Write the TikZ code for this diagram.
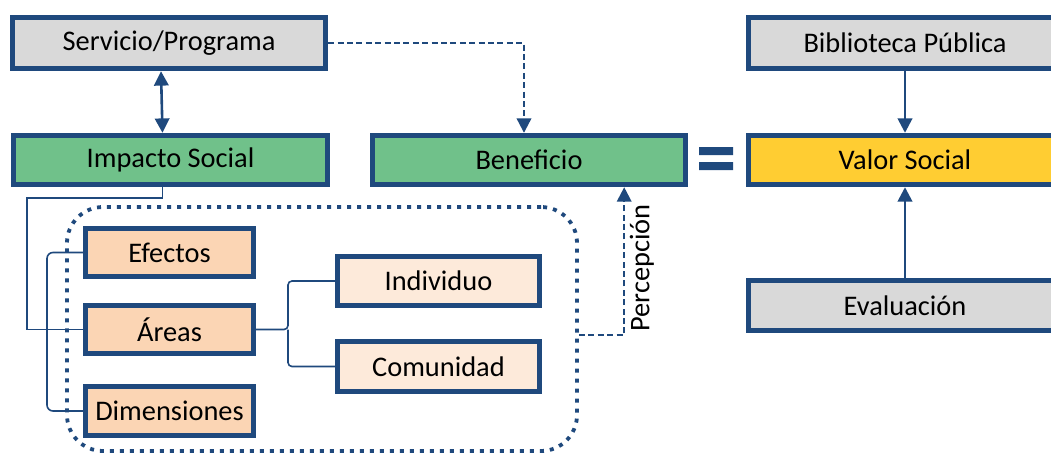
\documentclass[tikz,border=0pt]{standalone}
\usepackage{fontspec}
\setmainfont{Carlito}
\usetikzlibrary{arrows.meta}

\definecolor{frame}{RGB}{31,73,125}
\definecolor{greybox}{RGB}{217,217,217}
\definecolor{greenbox}{RGB}{112,193,138}
\definecolor{orangebox}{RGB}{251,213,180}
\definecolor{palebox}{RGB}{253,234,218}
\definecolor{yellowbox}{RGB}{255,205,50}

\begin{document}
\begin{tikzpicture}[x=0.25mm,y=-0.25mm,>={Triangle[width=3.6mm,length=3.6mm]},
  box/.style={draw=frame,line width=1.25mm,minimum width=78.35mm,minimum height=12.35mm,inner sep=0pt,font=\fontsize{20.2}{24}\selectfont},
  smallbox/.style={box,minimum width=42.1mm,minimum height=12.1mm,fill=orangebox},
  subbox/.style={box,minimum width=50.6mm,fill=palebox},
  arrowline/.style={draw=frame,line width=0.65mm},
  dashline/.style={draw=frame,line width=0.55mm,dash pattern=on 1.5mm off 0.85mm},
  thinline/.style={draw=frame,line width=0.4mm},
  dotbox/.style={draw=frame,line width=0.95mm,dash pattern=on 1mm off 1.5mm,rounded corners=9mm,minimum width=127.5mm,minimum height=61mm}]
  \useasboundingbox (0,0) rectangle (1051,454);
  %left
  %upper
  \node[box,fill=greybox,minimum height=12.85mm] (serv) at (169,43) {Servicio/Programa};
  \node[box,fill=greenbox] (imp) at (170.5,160) {Impacto Social};
  \node[box,fill=greenbox] (ben) at (529,160) {Beneficio};
  %lower
  \node[dotbox] (grp) at (322,329) {};
  \node[smallbox] (efe) at (169.5,252.5) {Efectos};
  \node[smallbox] (are) at (169.5,329.5) {Áreas};
  \node[smallbox] (dim) at (169.5,411) {Dimensiones};
  \node[subbox] (ind) at (438.5,281) {Individuo};
  \node[subbox] (com) at (438.5,366.5) {Comunidad};
  \node[font=\fontsize{20.2}{24}\selectfont,rotate=90] (pcp) at (642,268) {Percepción};

  %right
  \fill[frame] (699,147) rectangle (733,155) (699,162) rectangle (733,170);
  \node[box,fill=greybox,minimum height=12.85mm] (bib) at (905,43) {Biblioteca Pública};
  \node[box,fill=yellowbox] (val) at (905,160) {Valor Social};
  \node[box,fill=greybox,minimum height=12.6mm] (eva) at (905,305.5) {Evaluación};

  %connectors
  \draw[arrowline,<->] ([xshift=-2mm]serv.south) -- ([xshift=-2mm]imp.north);
  \draw[dashline,->] (serv.east) -| ([xshift=-1.25mm]ben.north);
  \draw[dashline,->] ([yshift=-1.5mm]grp.east) -| ([xshift=-16mm]ben.south east);
  \draw[arrowline,->] (bib) -- (val);
  \draw[arrowline,->] (eva) -- (val);
  \draw[thinline] ([xshift=-2mm]imp.south) |- (27,198) |- (are.west);
  \draw[thinline,rounded corners=1.5mm] (efe.west) -| (47,330) |- (dim.west);
  \draw[thinline,rounded corners=1mm] (are.east) -- (288,329.5) |- (ind.west);
  \draw[thinline,rounded corners=1mm] (288,329.5) |- (com.west);
\end{tikzpicture}
\end{document}
